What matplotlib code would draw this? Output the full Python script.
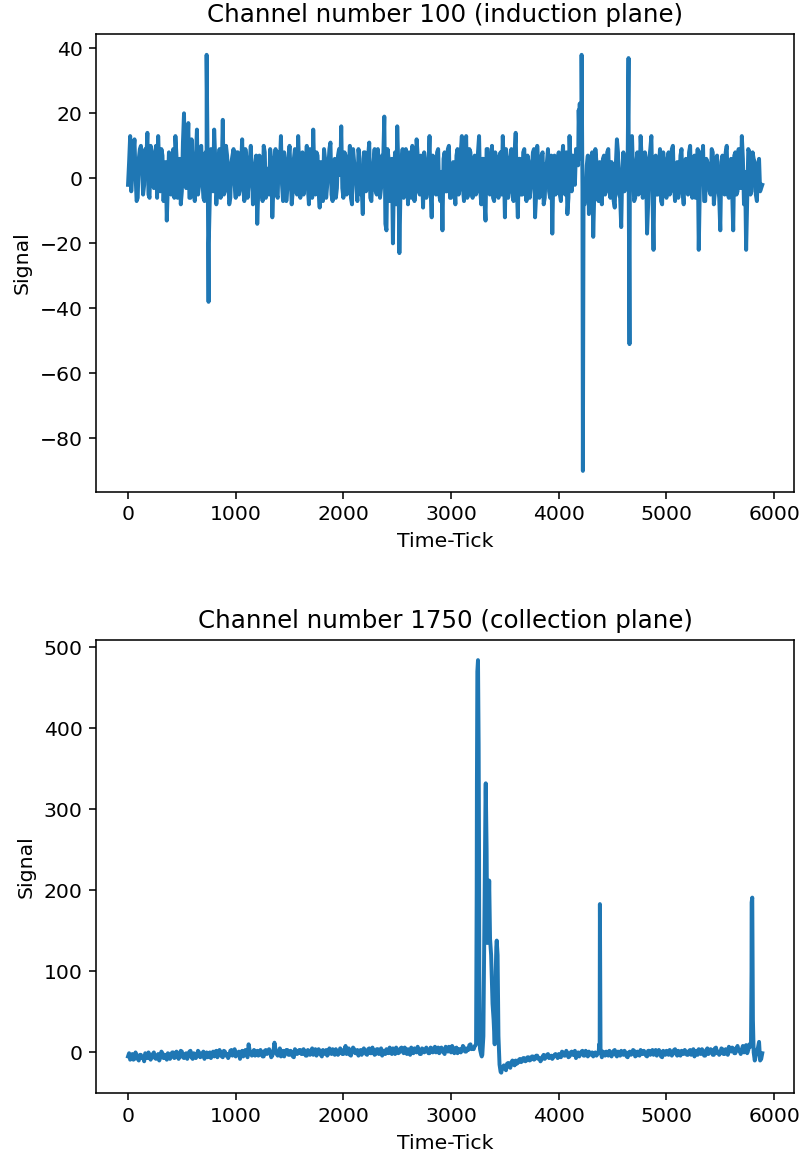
import numpy as np
import matplotlib
matplotlib.use("Agg")
import matplotlib.pyplot as plt

# ---------------- Channel 100 (induction plane) ----------------
# values at ticks 0, 20, 40, ...
ind_values_a = [
    -2, 13, 2, 12, -7, 6, 10, -5, 9, 14, -6, 8, -3, 10, 13, -4, 7, 2, -13, 8,
    -5, 9, 13, -6, 6, -4, 20, -3, 17, -6, 5, -7, 15, -2, 10, -6, 8, 3, -5, 6,
    15, -8, 4, -6, 18, -4, 7, -8, 5, 9, -6, 8, -3, 12, -7, 6, -2, 10, -8, 4,
    -14, 7, -4, 10, -6, 3, 9, -12, 5, -5, 8, 13, -7, 4, -3, 10, -8, 6, -4, 13,
    -6, 8, -2, 10, -8, 5, 15, -5, 7, -9, 4, 9, -6, 3, 11, -7, 6, -3, 9, 16,
    -6, 7, -4, 10, -8, 5, -2, 9, -5, -11, 8, -3, 11, -7, 5, -4, 9, -6, 7, 19,
    -16, 6, -5, -20, 8, 16, -23, 5, -6, 9, -8, 4, 10, -7, 12, -4, 7, -9, 5, -3,
    13, -12, 6, -5, 9, -7, -16, 8, -4, 10, -6, 5, -8, 9, -3, 13, -7, 13, -5, 8,
    -6, 7, -4, 13, -8, 6, -13, 9, -5, 10, -7, 4, -6, 8, 13, -12, 6, -4, 9, -7,
    14, -12, 6, -5, 9, -7, 5, -3, 8, -12, 10, -6, 7, -8, 4, 9, -6, -17, 7, -4,
    8, -7, 10, -5, -11, 13, -4, 6, 9, 4, 10, -3, -8, 4, -11, 6, -18, 9, -6, 5,
    -8, 7, -4, 9, -6, 3, -9, 12, -5, -15, 8, -3, 6, -4, 13, -7, 5, -5, 13, -6,
    8, -17, 6, 13, -22, 7, -5, 9, -8, 4, -6, 8, -4, 10, -7, 5, -3, 9, -8, 6,
    -5, 10, -6, 7, -4, -22, 8, 10, -7, 5, -4, 9, -8, 6, -3, -16, 7, -5, 10, -6,
    6, -16, 8, -4, 7, 13, -8, -22, 9, -5, 8, 5, -7, 6, -3,
]
# values at ticks 10, 30, 50, ...
ind_values_b = [
    5, -4, 8, 1, -6, 9, 3, -2, 6, -5, 10, 0, 7, -6, 4, 9, -7, 5, -3, 6,
    2, -6, 7, 4, -8, 11, -2, 8, -6, 12, -3, 6, -5, 9, 0, -7, 5, -20, 9, -4,
    6, -3, 9, 2, -5, 10, 1, -6, 7, -2, 8, -5, 4, -3, 9, -6, 5, 2, -4, 7,
    -3, 5, -7, 8, 2, -5, 6, -3, 9, -6, 4, -2, 8, -7, 6, 1, -4, 9, -5, 3,
    7, -5, 4, -3, 9, -6, 2, 8, -4, 5, -7, 6, -2, 9, -5, 4, -6, 7, 1, -3,
    8, -5, 3, -6, 9, 2, -7, 6, -3, 8, -4, 7, -6, 2, 9, -5, 4, -3, 6, -14,
    9, -7, 6, 2, -8, 4, -4, 9, -5, 3, 8, -6, 5, -3, 7, -5, 2, 8, -6, 4,
    -4, 7, -3, 8, -5, 2, 6, -4, 9, -6, 3, -2, 7, -5, 8, -3, 5, -6, 9, -4,
    4, -5, 8, -3, 6, -7, 9, -4, 3, -6, 8, -2, 7, -5, 4, 9, -6, 5, -3, 8,
    -3, 6, -5, 8, -4, 7, -6, 3, 9, -5, 4, -3, 8, -6, 5, -4, 7, 2, -5, 6,
    -5, 6, -3, 8, -6, 4, 7, -2, 9, 14, 6, -8, -5, 7, -6, 8, -4, 5, -7, 3,
    6, -5, 8, -3, 5, -7, 4, 8, -6, 3, -4, 7, -5, 9, 2, -6, 8, -4, 6, -3,
    5, -8, 9, -4, 6, -5, 3, -7, 8, -3, 6, -5, 9, -2, 4, -6, 7, -4, 5, -3,
    8, -4, 5, -6, 9, -3, 4, -7, 6, 2, -5, 8, -4, 7, -6, 5, -3, 8, -5, 4,
    -4, 7, -5, 9, -3, 6, 2, -6, 8, -4, 6, -5, 3, -4, -2,
]
# sharp events (time tick, value)
ind_event_ticks = [730, 748, 4185, 4195, 4212, 4224, 4648, 4657]
ind_event_values = [38, -38, 21, 23, 38, -90, 37, -51]

# ---------------- Channel 1750 (collection plane) ----------------
col_values_a = [
    -5, -9, -2, -8, -4, -10, -3, -6, -1, -7, -3, -5, 0, -8, -2, -6, -1, -4, -9, -2,
    -5, 0, -6, -2, -4, 1, -7, -1, -3, 2, -8, -2, -4, 0, -5, 1, -3, -6, 0, -2,
    -5, 2, -3, -1, -6, 1, -2, -4, 3, -1, -5, 0, -8, 2, -2, -3, 10, -1, 1, -4,
    2, -3, 0, -5, 3, -1, 1, -4, 12, -2, 0, -5, 2, -1, 3, -3, 0, -6, 2, -1,
    3, -2, 1, -4, 2, 0, -3, 4, -1, 2, -5, 1, 3, -2, 0, 4, -3, 1, -1, 3,
    -2, 8, 0, -3, 2, 4, -1, -4, 3, 0, 2, -3, 5, -1, 1, -2, 4, 0, -4, 2,
    4, -1, 2, 5, -2, 3, 0, 6, -1, 2, 4, -3, 1, 5, 0, 2, -2, 4, 1, 3,
    -1, 5, 2, 0, 6, 1, 3, -2, 4, 7, 0, 3, 5, -1, 4, 2, 6, 1, 3, 10,
    5, 8, 330, 240, -3, 20, 320, 140, 160, 80, 25, 130, 20, -24, -18, -20, -14, -17, -12, -15,
    -10, -13, -8, -11, -7, -10, -6, -9, -5, -8, -4, -7, -9, -3, -6, -2, -5, -8, -3, -4,
    -2, -6, 0, -4, -1, -5, 1, -3, -7, 0, -2, 2, -4, -1, 1, -3, -5, 0, -2, 3,
    -6, -1, 1, -4, 0, -2, 3, -5, -1, 2, -3, 0, -6, 1, -2, 2, -4, -1, 3, -2,
    0, -5, 2, -1, -3, 3, -2, 1, -6, 0, 2, -3, 1, -1, 4, -4, 0, 2, -2, 1,
    -3, 3, 0, -5, 2, 4, -2, 1, -4, 5, 0, 3, -3, 6, 1, -1, 4, -2, 2, 7,
    1, 5, -1, 8, 2, 4, 0, 9, 3, 7, 120, -10, 2, 13, -8,
]
col_values_b = [
    -1, -6, -9, 0, -8, -3, -7, -11, -4, 0, -9, -2, -7, -4, -10, 1, -7, -3, -1, -8,
    0, -7, 1, -8, 2, -6, -2, -8, 1, -6, -1, -7, 2, -6, -1, -8, 0, -2, -7, 1,
    1, -6, 3, -5, 2, -4, -7, 2, -4, 4, -3, 1, -2, -5, 3, -6, 2, -4, 3, -2,
    -4, 3, -5, 2, -2, 4, -6, 1, 3, -4, 5, -2, -5, 3, -3, 2, -5, 4, -2, 3,
    -2, 4, -4, 3, -3, 5, 1, -4, 4, -3, 3, -2, -4, 5, -2, 1, 4, -3, 5, -2,
    3, -2, 5, -4, 6, -1, 3, 2, -3, 5, -2, 4, -1, 6, -3, 4, -2, 5, 2, -2,
    0, 6, -2, 1, 6, -1, 5, 1, 6, -2, 0, 6, -1, 3, 7, -2, 5, 0, 6, -1,
    6, 0, 7, 4, -1, 6, 0, 7, 1, 2, 8, -1, 6, 4, 0, 8, 1, 5, 9, 4,
    4, 9, 484, 3, -3, 180, 250, 180, 125, 50, 40, 125, -15, -22, -16, -22, -13, -19, -10, -16,
    -14, -9, -12, -7, -11, -6, -10, -5, -9, -4, -8, -11, -5, -8, -3, -7, -4, -6, -2, -7,
    -5, 1, -4, 2, -6, 0, -3, 2, -2, -5, 1, -4, 2, -5, -2, 0, -1, -4, -1, 2,
    1, -4, -3, 2, -5, 2, -3, 1, -4, -2, 2, -5, 0, -3, 3, -5, 1, -4, -2, 2,
    -4, 2, -3, 3, 1, -4, 3, -5, 2, -3, -2, 3, -4, 3, -2, 2, -4, -1, 3, -3,
    2, -3, 4, -1, -3, 0, 4, -4, 3, -2, 4, -3, 5, -1, -3, 5, -2, 4, -3, 3,
    6, -1, 5, 2, -2, 8, 3, -1, 10, 100, 0, -4, 6, -10, -1,
]
col_event_ticks = [3232, 3238, 3244, 3256, 3262, 3268, 3285, 3312, 3322,
                   3336, 3346, 3354, 3362, 3372, 3385, 3395, 3405, 3415, 3424, 3432,
                   3466, 4376, 4382, 4388, 5785, 5791, 5797, 5803]
col_event_values = [10, 200, 470, 380, 100, 5, -5, 200, 332,
                    135, 150, 212, 140, 120, 60, 40, 10, 100, 138, 120,
                    -25, 10, 183, 5, 10, 185, 191, 40]

STEP = 20


def build(vals_a, vals_b, ev_t, ev_v):
    t = np.concatenate([np.arange(len(vals_a)) * STEP,
                        np.arange(len(vals_b)) * STEP + STEP // 2,
                        np.array(ev_t)])
    v = np.concatenate([np.array(vals_a, dtype=float),
                        np.array(vals_b, dtype=float),
                        np.array(ev_v, dtype=float)])
    order = np.argsort(t, kind="stable")
    return t[order], v[order]


t1, v1 = build(ind_values_a, ind_values_b, ind_event_ticks, ind_event_values)
t2, v2 = build(col_values_a, col_values_b, col_event_ticks, col_event_values)

dpi = 141.5
plt.rcParams["font.size"] = 10.4
plt.rcParams["axes.titlesize"] = 12.45
fig = plt.figure(figsize=(803 / dpi, 1160 / dpi), dpi=dpi)

ax1 = fig.add_axes([96.3 / 803, (1160 - 491.7) / 1160, (794 - 96.3) / 803, (491.7 - 34) / 1160])
ax1.plot(t1, v1, color="#1f77b4", lw=2.0)
ax1.set_title("Channel number 100 (induction plane)")
ax1.set_xlabel("Time-Tick")
ax1.set_ylabel("Signal")

ax2 = fig.add_axes([96.3 / 803, (1160 - 1093.3) / 1160, (794 - 96.3) / 803, (1093.3 - 639.5) / 1160])
ax2.plot(t2, v2, color="#1f77b4", lw=2.0)
ax2.set_title("Channel number 1750 (collection plane)")
ax2.set_xlabel("Time-Tick")
ax2.set_ylabel("Signal")

fig.savefig("out.png", dpi=dpi)
